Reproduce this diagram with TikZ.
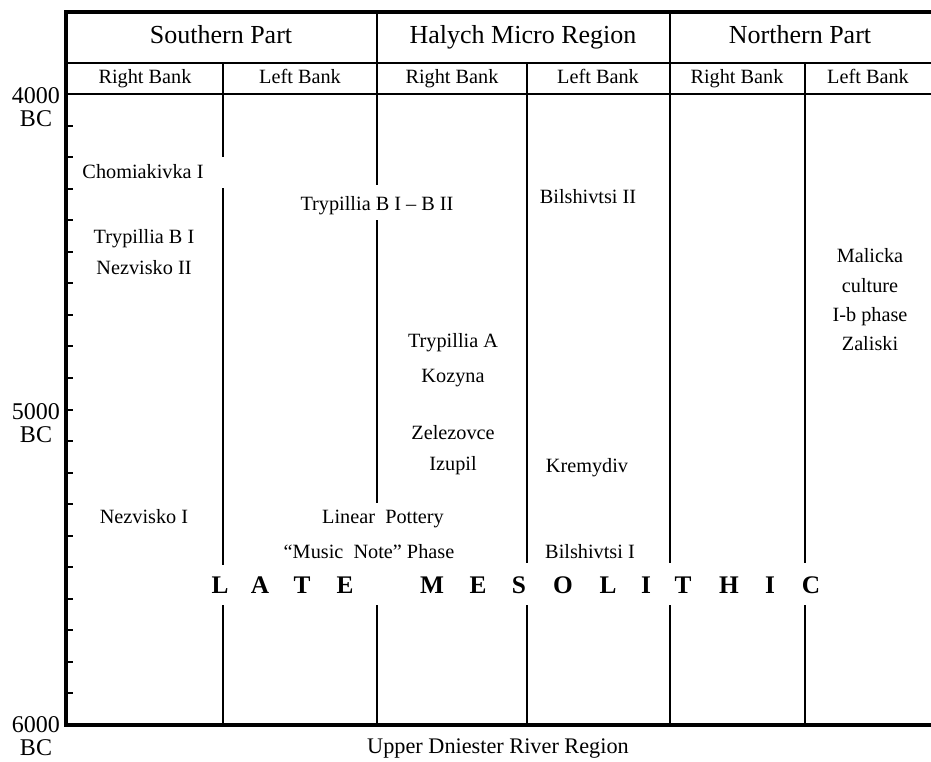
\documentclass[tikz,border=0pt]{standalone}
\usepackage{fontspec}
\setmainfont{Liberation Serif}
\tikzset{
  rule/.style={line width=1.5pt},
  axisrule/.style={line width=2.4pt},
  region/.style={font=\fontsize{19.5}{22}\selectfont, inner sep=0pt, text height=13.5pt, text depth=4.2pt},
  bank/.style={font=\fontsize{15.2}{18}\selectfont, inner sep=0pt, text height=10.5pt, text depth=3.3pt},
  site/.style={font=\fontsize{15.2}{22}\selectfont, inner sep=0pt, text height=10.5pt, text depth=3.3pt},
  datelbl/.style={font=\fontsize{18}{17.5}\selectfont, align=center, inner sep=0pt},
  bigletter/.style={font=\bfseries\fontsize{19}{22}\selectfont, inner sep=0pt},
}
\begin{document}
\begin{tikzpicture}[x=0.75pt, y=-0.75pt]
  \useasboundingbox (0,0) rectangle (931,761);
  % frame
  \draw[axisrule] (931,12) -- (66,12) -- (66,725) -- (931,725);
  \draw[rule] (66,63) -- (931,63);
  \draw[rule] (66,94) -- (931,94);
  \foreach \t in {1,...,19}
    \draw[rule] (66,{94+\t*31.55}) -- ++(7,0);
  \begin{scope}[rule]
    \draw (223,63) -- (223,157);
    \draw (223,188) -- (223,565);
    \draw (223,605) -- (223,725);
    \draw (377,12) -- (377,185);
    \draw (377,220) -- (377,503);
    \draw (377,605) -- (377,725);
    \draw (527,63) -- (527,563);
    \draw (527,605) -- (527,725);
    \draw (670,12) -- (670,563);
    \draw (670,605) -- (670,725);
    \draw (805,63) -- (805,563);
    \draw (805,605) -- (805,725);
  \end{scope}
  % headers
  \node[region] (south) at (221,37) {Southern Part};
  \node[region] (halych) at (523,37) {Halych Micro Region};
  \node[region] (north) at (800,37) {Northern Part};
  \node[bank] (sr) at (145,79) {Right Bank};
  \node[bank] (sl) at (300,79) {Left Bank};
  \node[bank] (hr) at (452,79) {Right Bank};
  \node[bank] (hl) at (598,79) {Left Bank};
  \node[bank] (nr) at (737,79) {Right Bank};
  \node[bank] (nl) at (868,79) {Left Bank};
  % dates
  \node[datelbl] (d4000) at (36,107) {4000\\BC};
  \node[datelbl] (d5000) at (36,423) {5000\\BC};
  \node[datelbl] (d6000) at (36,736) {6000\\BC};
  % sites
  \node[site] (chom) at (143,174) {Chomiakivka I};
  \node[site] (tryb) at (377,206) {Trypillia B I -- B II};
  \node[site] (bil2) at (588,199) {Bilshivtsi II};
  \node[site] (tryb1) at (144,239) {Trypillia B I};
  \node[site] (nez2) at (144,270) {Nezvisko II};
  \node[site, align=center, text height=, text depth=] (mal) at (870,300)
    {Malicka\\culture\\I-b phase\\Zaliski};
  \node[site] (trya) at (453,343) {Trypillia A};
  \node[site] (koz) at (453,378) {Kozyna};
  \node[site] (zel) at (453,435) {Zelezovce};
  \node[site] (izu) at (453,466) {Izupil};
  \node[site] (krem) at (587,468) {Kremydiv};
  \node[site] (nez1) at (144,519) {Nezvisko I};
  \node[site] (linp) at (383,519) {Linear\ \ Pottery};
  \node[site] (mnote) at (369,554) {``Music\ \ Note'' Phase};
  \node[site] (bil1) at (590,554) {Bilshivtsi I};
  % late mesolithic
  \foreach \ch/\px [count=\k] in {L/220, A/260, T/302, E/345, M/432, E/478, S/519,
      O/563, L/608, I/646, T/683, H/729, I/770, C/811}
    \node[bigletter] (late\k) at (\px,585) {\ch};
  \node[font=\fontsize{16.7}{20}\selectfont, inner sep=0pt] (title) at (498,749)
    {Upper Dniester River Region};
\end{tikzpicture}
\end{document}
